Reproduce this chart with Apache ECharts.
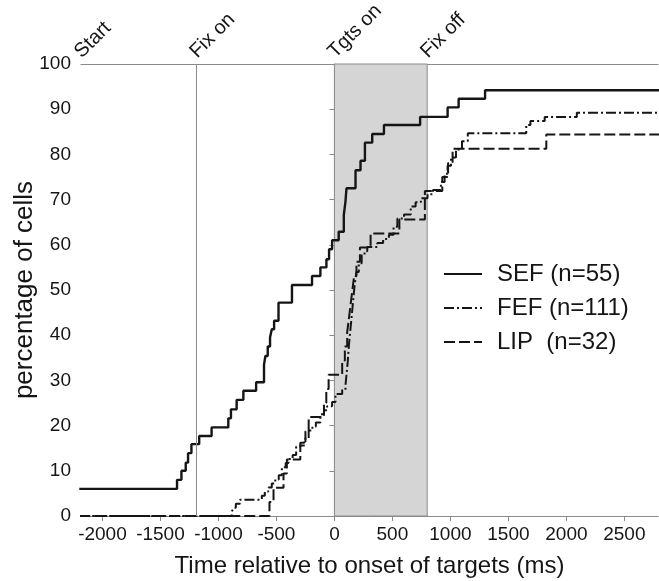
<!DOCTYPE html>
<html>
<head>
<meta charset="utf-8">
<script src="https://cdn.jsdelivr.net/npm/echarts@6/dist/echarts.min.js"></script>
<style>
  html, body { margin: 0; padding: 0; background: #fff; }
  #chart { width: 659px; height: 581px; }
</style>
</head>
<body>
<div id="chart"></div>
<script>
// Cumulative percentage of cells whose activity began by each time (ms, relative to target onset)
const sefTimes = [-2200, -1357, -1319, -1282, -1262, -1233, -1166, -1059, -915, -892, -843, -785, -675,
  -607, -595, -575, -555, -540, -520, -482, -366, -193, -121, -69, -46, -20, 37, 81, 95, 104,
  182, 225, 263, 326, 427, 739, 976, 1071, 1299, 2800];
const sefPct = [6.0, 8.0, 10.0, 11.8, 13.9, 15.9, 17.7, 19.6, 21.6, 23.6, 25.7, 27.7, 29.6,
  33.5, 35.4, 37.5, 39.5, 41.3, 43.2, 47.2, 51.1, 53.1, 55.0, 56.8, 59.0, 61.0, 62.9, 66.6, 69.5, 72.5,
  76.5, 78.6, 82.6, 84.5, 86.5, 88.3, 90.4, 92.3, 94.2, 94.2];

const fefTimes = [-2200, -886, -870, -850, -814, -626, -600, -570, -540, -510, -480, -453, -420, -396,
  -360, -330, -294, -260, -222, -190, -160, -121, -90, -63, -20, 9, 67, 95, 105, 115, 125, 135, 145,
  155, 165, 175, 190, 210, 235, 260, 283, 370, 420, 470, 510, 543, 600, 658, 700, 745, 803, 850,
  918, 950, 976, 1005, 1048, 1100, 1150, 1654, 1690, 1813, 2090, 2800];
const fefPct = [0, 0.9, 1.8, 2.7, 3.6, 4.5, 5.4, 6.3, 7.2, 8.1, 9.0, 10.8, 11.7, 12.6,
  13.5, 15.3, 16.2, 17.1, 18.9, 19.8, 20.7, 22.5, 23.4, 24.3, 25.2, 27.0, 27.9, 28.8, 31.5, 34.2, 37.8, 40.5, 43.2,
  45.9, 48.6, 51.3, 54.0, 55.9, 57.7, 58.6, 59.5, 60.4, 61.3, 62.2, 64.0, 65.8, 66.7, 68.5, 69.4, 70.3, 71.2, 72.1,
  73.9, 75.7, 77.5, 79.3, 81.1, 82.9, 84.7, 86.5, 87.4, 88.3, 89.2, 89.2];

const lipTimes = [-2200, -560, -525, -439, -410, -294, -250, -222, -90, -70, -50, 67, 90, 110, 125,
  140, 155, 170, 190, 220, 312, 560, 780, 930, 980, 1019, 1827, 2800];
const lipPct = [0, 3.1, 6.25, 9.4, 12.5, 15.6, 18.75, 21.9, 25.0, 28.1, 31.25, 34.4, 37.5, 40.6, 43.75,
  46.9, 50.0, 53.1, 56.25, 59.4, 62.5, 65.6, 71.9, 75.0, 78.1, 81.25, 84.4, 84.4];

const seriesNames = ['SEF (n=55)', 'FEF (n=111)', 'LIP  (n=32)'];

// Visible time window (ms)
const timeMin = -2185;
const timeMax = 2790;

// Trial events marked along the top of the plot
const eventNames = ['Start', 'Fix on', 'Tgts on', 'Fix off'];
const eventTimes = [timeMin, -1190, 0, 800];

const xTicks = [-2000, -1500, -1000, -500, 0, 500, 1000, 1500, 2000, 2500];
const yTicks = [0, 10, 20, 30, 40, 50, 60, 70, 80, 90, 100];

const FONT = '"Liberation Sans", Arial, Helvetica, sans-serif';
const AXIS_GREY = '#8a8a8a';
const INK = '#151515';

function pairs(xs, ys) { return xs.map((x, i) => [x, ys[i]]); }
const plain = v => String(v);

const chart = echarts.init(document.getElementById('chart'), null, { renderer: 'canvas' });

const option = {
  backgroundColor: '#ffffff',
  animation: false,
  textStyle: { fontFamily: FONT },
  grid: { left: 81, right: 1, top: 64, bottom: 65, containLabel: false, outerBoundsMode: 'none' },
  legend: {
    orient: 'vertical',
    left: 443,
    top: 262,
    padding: 0,
    itemWidth: 38,
    itemHeight: 14,
    itemGap: 10,
    data: seriesNames,
    itemStyle: { color: 'rgba(0,0,0,0)', borderWidth: 0, opacity: 0 },
    textStyle: { fontSize: 24, color: INK, fontFamily: FONT, padding: [0, 0, 0, 10] }
  },
  xAxis: [{
    type: 'value',
    min: timeMin,
    max: timeMax,
    name: 'Time relative to onset of targets (ms)',
    nameLocation: 'middle',
    nameGap: 38,
    nameMoveOverlap: false,
    nameTextStyle: { fontSize: 24, color: INK, fontFamily: FONT },
    axisLine: { show: true, onZero: false, lineStyle: { color: AXIS_GREY, width: 1 } },
    axisTick: { show: true, inside: false, length: 5, customValues: xTicks, lineStyle: { color: AXIS_GREY } },
    axisLabel: { customValues: xTicks, formatter: plain, fontSize: 19, color: INK, margin: 9, fontFamily: FONT },
    splitLine: { show: false }
  }, {
    type: 'value',
    position: 'top',
    min: timeMin,
    max: timeMax,
    axisLine: { show: true, onZero: false, lineStyle: { color: AXIS_GREY, width: 1 } },
    axisTick: { show: false },
    axisLabel: { show: false },
    splitLine: { show: false }
  }],
  yAxis: {
    type: 'value',
    min: 0,
    max: 100,
    interval: 10,
    name: 'percentage of cells',
    nameLocation: 'middle',
    nameGap: 43,
    nameMoveOverlap: false,
    nameTextStyle: { fontSize: 26, color: INK, fontFamily: FONT },
    axisLine: { show: true, lineStyle: { color: AXIS_GREY, width: 1 } },
    axisTick: { show: true, inside: false, length: 5, customValues: yTicks, lineStyle: { color: AXIS_GREY } },
    axisLabel: { customValues: yTicks, formatter: plain, fontSize: 19, color: INK, margin: 10, fontFamily: FONT },
    splitLine: { show: false }
  },
  series: [
    {
      name: seriesNames[0],
      type: 'line',
      step: 'end',
      symbol: 'none',
      data: pairs(sefTimes, sefPct),
      lineStyle: { color: INK, width: 2.4, type: 'solid' },
      itemStyle: { color: INK },
      markArea: {
        silent: true,
        itemStyle: { color: '#d5d5d5', borderColor: AXIS_GREY, borderWidth: 1 },
        data: [[{ xAxis: eventTimes[2] }, { xAxis: eventTimes[3] }]]
      },
      markLine: {
        silent: true,
        symbol: 'none',
        label: { show: false },
        lineStyle: { color: AXIS_GREY, width: 1, type: 'solid' },
        data: [{ xAxis: eventTimes[1] }]
      }
    },
    {
      name: seriesNames[1],
      type: 'line',
      step: 'end',
      symbol: 'none',
      data: pairs(fefTimes, fefPct),
      lineStyle: { color: INK, width: 2, type: [10, 3, 2, 3] },
      itemStyle: { color: INK }
    },
    {
      name: seriesNames[2],
      type: 'line',
      step: 'end',
      symbol: 'none',
      data: pairs(lipTimes, lipPct),
      lineStyle: { color: INK, width: 2, type: [11, 4] },
      itemStyle: { color: INK }
    }
  ]
};

chart.setOption(option);

// Event names, slanted, above the top edge of the plot at each event time
const topY = chart.convertToPixel({ yAxisIndex: 0 }, 100);
chart.setOption({
  graphic: eventNames.map((name, i) => ({
    type: 'text',
    x: chart.convertToPixel({ xAxisIndex: 0 }, eventTimes[i]) + 4,
    y: topY - 2,
    rotation: Math.PI / 4,
    silent: true,
    style: {
      text: name,
      font: '20px ' + FONT,
      fill: INK,
      textAlign: 'left',
      textVerticalAlign: 'bottom'
    }
  }))
});
</script>
</body>
</html>
